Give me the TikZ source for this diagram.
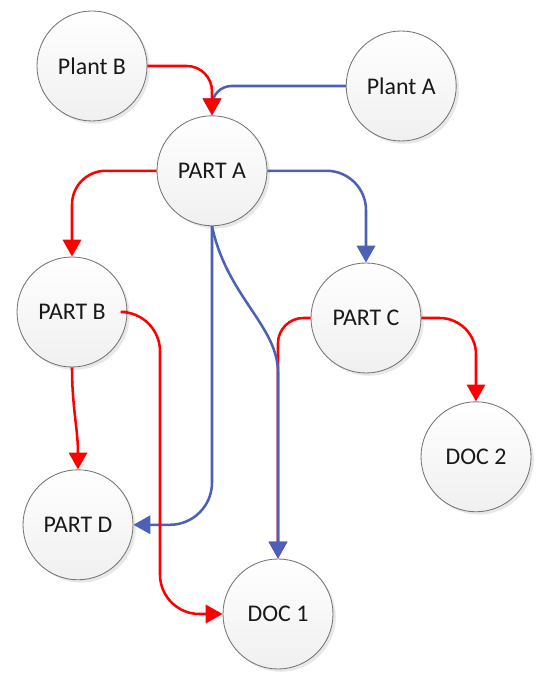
\documentclass[tikz,border=0pt]{standalone}
\usepackage{fontspec}
\setmainfont{Carlito}
\usetikzlibrary{arrows.meta,shadows}
\definecolor{linkred}{RGB}{255,0,0}
\definecolor{linkblue}{RGB}{76,96,182}
\definecolor{rim}{RGB}{115,115,115}
\begin{document}
\begin{tikzpicture}[>={Triangle[width=13pt,length=12pt]},
    item/.style={circle,draw=rim,line width=0.6pt,minimum size=2.75cm,inner sep=0pt,
        top color=white,bottom color=gray!12,text=black!90,
        drop shadow={opacity=0.18,shadow xshift=2pt,shadow yshift=-2pt},
        font=\fontsize{17}{20}\selectfont},
    redlink/.style={->,draw=linkred,line width=1.8pt,rounded corners=18pt},
    bluelink/.style={->,draw=linkblue,line width=1.8pt,rounded corners=18pt}]
\useasboundingbox (0,0) rectangle (13.475,16.95);
% plants, parts and documents
\node[item] (plantB) at (2.3,15.3) {Plant B};
\node[item] (plantA) at (10.03,14.8) {Plant A};
\node[item] (partA) at (5.3,12.68) {PART A};
\node[item] (partB) at (1.8,9.15) {PART B};
\node[item] (partC) at (9.15,9.0) {PART C};
\node[item] (partD) at (1.95,3.83) {PART D};
\node[item] (doc1) at (6.95,1.6) {DOC 1};
\node[item] (doc2) at (11.9,5.53) {DOC 2};
\coordinate (bend) at (4.0,6.0);
\coordinate (drop) at (6.95,7.0);
% links
\draw[bluelink,rounded corners=14pt](plantA.west)-|(partA.north);
\draw[redlink](plantB.east)-|(partA.north);
\draw[redlink,rounded corners=24pt](partA.west)-|(partB.north);
\draw[bluelink,rounded corners=28pt](partA.east)-|(partC.north);
\draw[bluelink,rounded corners=30pt](partA.south)|-(partD.east);
\draw[redlink](partB.south)to[out=-90,in=90](partD.north);
\draw[redlink,rounded corners=28pt](partB.east)-|(bend)|-(doc1.west);
\draw[redlink](partC.west)-|(doc1.north);
\draw[bluelink](partA.south)to[out=-78,in=90](drop)--(doc1.north);
\draw[redlink,rounded corners=26pt](partC.east)-|(doc2.north);
\end{tikzpicture}
\end{document}
